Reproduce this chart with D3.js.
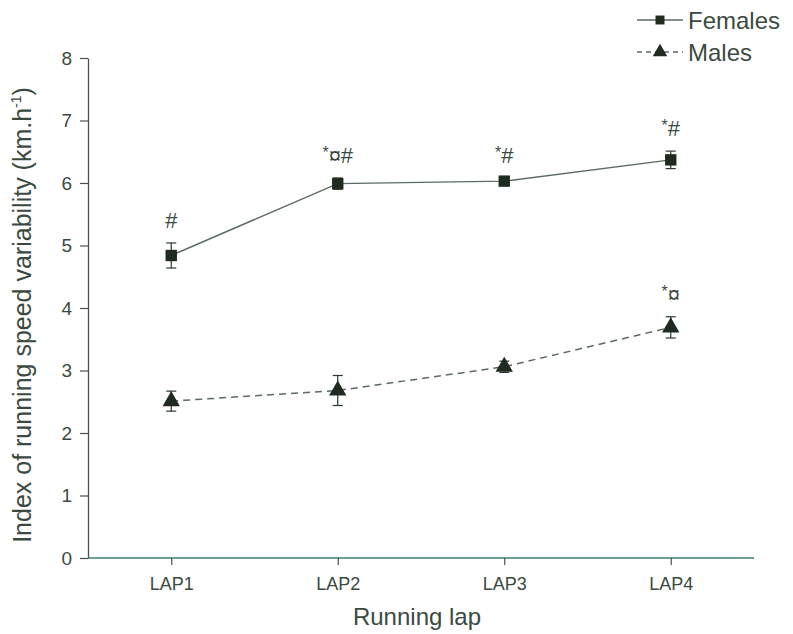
<!DOCTYPE html>
<html>
<head>
<meta charset="utf-8">
<script src="https://cdn.jsdelivr.net/npm/d3@7"></script>
<style>
  body { margin: 0; background: #fff; }
  svg { display: block; font-family: "Liberation Sans", Arial, sans-serif; }
</style>
</head>
<body>
<svg id="chart" width="793" height="634"></svg>
<script>
  const laps = ["LAP1", "LAP2", "LAP3", "LAP4"];
  const femaleMean = [4.84, 5.99, 6.03, 6.37];
  const femaleErr = [0.2, 0.09, 0.05, 0.14];
  const maleMean = [2.51, 2.68, 3.06, 3.69];
  const maleErr = [0.16, 0.24, 0.09, 0.17];
  const femaleMarks = ["#", "*¤#", "*#", "*#"];
  const maleMarks = ["", "", "", "*¤"];
  const yTicks = [0, 1, 2, 3, 4, 5, 6, 7, 8];

  (function () {
    const ink = "#2a3a2e";
    const lineCol = "#5b6b5f";
    const textCol = "#3b4a3f";

    const svg = d3.select("#chart");
    const plotLeft = 88, plotRight = 754, plotTop = 58, plotBottom = 558;

    const x = d3.scalePoint().domain(laps).range([plotLeft, plotRight]).padding(0.5);
    const y = d3.scaleLinear().domain([0, 8]).range([plotBottom, plotTop]);

    // y axis
    const yAxis = svg.append("g")
      .attr("transform", "translate(" + plotLeft + ",0)")
      .call(d3.axisLeft(y).tickValues(yTicks).tickSize(8).tickSizeOuter(0).tickPadding(8));
    yAxis.select(".domain").attr("stroke", "#4a4f4a").attr("stroke-width", 1.3);
    yAxis.selectAll(".tick line").attr("stroke", "#4a4f4a").attr("stroke-width", 1.2);
    yAxis.selectAll(".tick text").attr("fill", textCol)
      .style("font-size", "19px").style("font-family", "'Liberation Sans', Arial, sans-serif");

    // x axis
    const xAxis = svg.append("g")
      .attr("transform", "translate(0," + plotBottom + ")")
      .call(d3.axisBottom(x).tickSize(7).tickSizeOuter(0).tickPadding(12));
    xAxis.select(".domain").attr("d", "M" + plotLeft + ",0H" + plotRight)
      .attr("stroke", "#3f7f70").attr("stroke-width", 1.6);
    xAxis.selectAll(".tick line").attr("stroke", "#4a4f4a").attr("stroke-width", 1.2);
    xAxis.selectAll(".tick text").attr("fill", textCol)
      .style("font-size", "18px").style("font-family", "'Liberation Sans', Arial, sans-serif");

    // axis titles
    svg.append("text")
      .attr("x", (plotLeft + plotRight) / 2 - 4).attr("y", 625)
      .attr("text-anchor", "middle").attr("fill", textCol)
      .style("font-size", "24px").text("Running lap");

    const yt = svg.append("text")
      .attr("transform", "translate(31,315) rotate(-90)")
      .attr("text-anchor", "middle").attr("fill", textCol)
      .style("font-size", "25px");
    yt.append("tspan").text("Index of running speed variability (km.h");
    yt.append("tspan").attr("dy", -10).style("font-size", "14px").text("-1");
    yt.append("tspan").attr("dy", 10).text(")");

    function drawSeries(means, errs, dash, shape, marks) {
      const pts = laps.map((l, i) => ({ lap: l, m: means[i], e: errs[i], mark: marks[i] }));
      const g = svg.append("g");

      g.append("path")
        .datum(pts)
        .attr("fill", "none")
        .attr("stroke", lineCol)
        .attr("stroke-width", 1.5)
        .attr("stroke-dasharray", dash)
        .attr("d", d3.line().x(d => x(d.lap)).y(d => y(d.m)));

      const eb = g.selectAll(".eb").data(pts).join("g").attr("stroke", ink).attr("stroke-width", 1.2);
      eb.append("line")
        .attr("x1", d => x(d.lap)).attr("x2", d => x(d.lap))
        .attr("y1", d => y(d.m + d.e)).attr("y2", d => y(d.m - d.e));
      eb.append("line")
        .attr("x1", d => x(d.lap) - 5).attr("x2", d => x(d.lap) + 5)
        .attr("y1", d => y(d.m + d.e)).attr("y2", d => y(d.m + d.e));
      eb.append("line")
        .attr("x1", d => x(d.lap) - 5).attr("x2", d => x(d.lap) + 5)
        .attr("y1", d => y(d.m - d.e)).attr("y2", d => y(d.m - d.e));

      g.selectAll(".pt").data(pts).join("path")
        .attr("transform", d => "translate(" + x(d.lap) + "," + y(d.m) + ")")
        .attr("d", d3.symbol().type(shape).size(shape === d3.symbolSquare ? 130 : 130))
        .attr("fill", "#1f2a21");

      const lab = g.selectAll(".lab").data(pts.filter(d => d.mark)).join("text")
        .attr("x", d => x(d.lap))
        .attr("y", d => y(d.m + d.e) - 15)
        .attr("text-anchor", "middle")
        .attr("fill", textCol)
        .style("font-size", "22px");
      lab.each(function (d) {
        const t = d3.select(this);
        const s = d.mark;
        if (s[0] === "*") {
          t.append("tspan").attr("dy", -5).style("font-size", "16px").text("*");
          t.append("tspan").attr("dy", 5).text(s.slice(1));
        } else {
          t.text(s);
        }
      });
    }

    drawSeries(femaleMean, femaleErr, null, d3.symbolSquare, femaleMarks);
    drawSeries(maleMean, maleErr, "7,5", d3.symbolTriangle, maleMarks);

    // legend
    const legend = svg.append("g").attr("transform", "translate(637,0)");
    const items = [
      { name: "Females", dash: null, shape: d3.symbolSquare, yy: 20 },
      { name: "Males", dash: "5,4", shape: d3.symbolTriangle, yy: 52 }
    ];
    items.forEach(it => {
      legend.append("line")
        .attr("x1", 0).attr("x2", 46).attr("y1", it.yy).attr("y2", it.yy)
        .attr("stroke", lineCol).attr("stroke-width", 1.5)
        .attr("stroke-dasharray", it.dash);
      legend.append("path")
        .attr("transform", "translate(23," + it.yy + ")")
        .attr("d", d3.symbol().type(it.shape).size(it.shape === d3.symbolSquare ? 80 : 90))
        .attr("fill", "#1f2a21");
      legend.append("text")
        .attr("x", 51).attr("y", it.yy + 9)
        .attr("fill", textCol).style("font-size", "24px")
        .text(it.name);
    });
  })();
</script>
</body>
</html>
